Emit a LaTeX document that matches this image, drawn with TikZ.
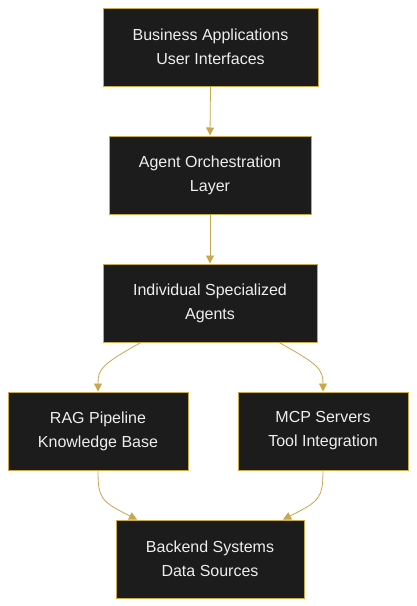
\documentclass[tikz,border=0pt]{standalone}
\usepackage{fontspec}
\setmainfont{Liberation Sans}
\usetikzlibrary{arrows.meta}
\definecolor{boxfill}{HTML}{1C1C1C}
\definecolor{gold}{HTML}{C9A84C}
\definecolor{txt}{HTML}{EEEEEE}
\begin{document}
\begin{tikzpicture}[x=1pt,y=-1pt,
  box/.style={draw=gold,fill=boxfill,line width=1pt,minimum height=78pt,
    text=txt,align=center,font=\fontsize{16}{24}\selectfont,inner sep=0pt},
  conn/.style={draw=gold,line width=0.8pt,-{Triangle[length=8pt,width=8pt]}}]
\useasboundingbox (0,0) rectangle (416,606);
\fill[white] (0,0) rectangle (416,606);
\node[box,minimum width=215pt] (b1) at (210.5,47) {Business Applications\\User Interfaces};
\node[box,minimum width=202pt] (b2) at (210,175) {Agent Orchestration\\Layer};
\node[box,minimum width=214pt] (b3) at (210,303) {Individual Specialized\\Agents};
\node[box,minimum width=180pt] (rag) at (98,431) {RAG Pipeline\\Knowledge Base};
\node[box,minimum width=170pt] (mcp) at (323,431) {MCP Servers\\Tool Integration};
\node[box,minimum width=188pt] (be) at (210,559) {Backend Systems\\Data Sources};
\draw[conn] (b1.south) -- (b2.north);
\draw[conn] (b2.south) -- (b3.north);
\draw[conn] ([xshift=-69pt]b3.south) .. controls +(-40,22) and +(0,-22) .. (rag.north);
\draw[conn] ([xshift=69pt]b3.south) .. controls +(40,22) and +(0,-22) .. (mcp.north);
\draw[conn] (rag.south) .. controls +(0,28) and +(-36,-18) .. ([xshift=-73pt]be.north);
\draw[conn] (mcp.south) .. controls +(0,28) and +(36,-18) .. ([xshift=73pt]be.north);
\end{tikzpicture}
\end{document}
